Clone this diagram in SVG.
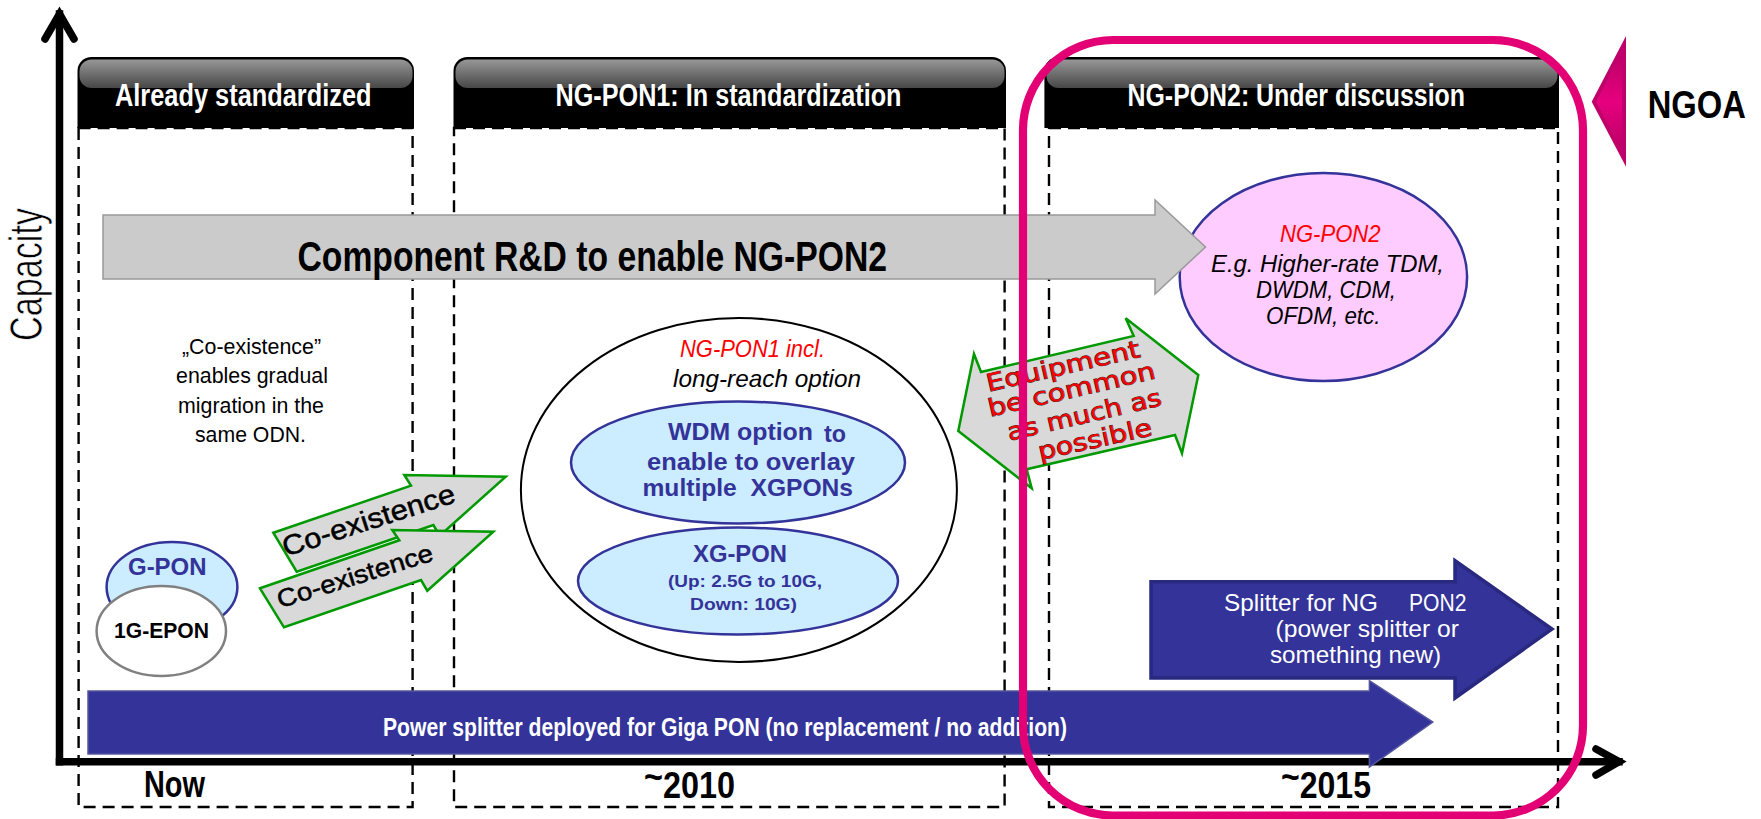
<svg xmlns="http://www.w3.org/2000/svg" width="1761" height="819" viewBox="0 0 1761 819">
<style>
text{font-family:"Liberation Sans",Arial,sans-serif;}
.dash{fill:none;stroke:#000;stroke-width:2.4;stroke-dasharray:12 7;}
.hdr{fill:#000;}
.gl{fill:url(#gloss);}
.ht{fill:#fff;font-size:31px;font-weight:bold;}
.ax{fill:none;stroke:#000;stroke-width:7.5;stroke-linecap:round;stroke-linejoin:miter;stroke-miterlimit:10;}
.axl{fill:none;stroke:#000;stroke-width:7.5;stroke-linecap:square;}
.blue{fill:#333399;font-weight:bold;}
.wh{fill:#fff;font-size:24px;}
.it{font-style:italic;font-size:24px;fill:#000;}
.red{fill:#f00;}
.el{fill:#ccecff;stroke:#333399;stroke-width:2.5;}
.gr{fill:#d9d9d9;stroke:#009900;stroke-width:2.5;stroke-linejoin:miter;}
.eq{font-family:"DejaVu Sans",sans-serif;font-size:24px;fill:#f00;stroke:#222;stroke-width:.9;paint-order:stroke;}
.lb{fill:#000;font-size:36px;font-weight:bold;}
.ce{fill:#000;stroke:#000;stroke-width:.5;}
.nt{font-size:22px;fill:#000;}
</style>
<defs>
<linearGradient id="gloss" x1="0" y1="0" x2="0" y2="1"><stop offset="0" stop-color="#979797"/><stop offset="1" stop-color="#474747"/></linearGradient>
<linearGradient id="tri" x1="0" y1="0" x2="0" y2="1"><stop offset="0" stop-color="#bb0066"/><stop offset=".5" stop-color="#e6007e"/><stop offset="1" stop-color="#bb0066"/></linearGradient>
</defs>

<g id="phase-already">
<rect class="dash" x="78.6" y="128" width="334" height="679"/>
<path class="hdr" d="M77.5 128V71a14 14 0 0 1 14-14H400a14 14 0 0 1 14 14V128Z"/>
<rect class="gl" x="79.5" y="59.5" width="333" height="28.5" rx="12"/>
<text class="ht" x="115" y="106" textLength="256.5" lengthAdjust="spacingAndGlyphs">Already standardized</text>
</g>
<g id="phase-ngpon1">
<rect class="dash" x="454" y="128" width="550.6" height="679"/>
<path class="hdr" d="M453.5 128V71a14 14 0 0 1 14-14H992a14 14 0 0 1 14 14V128Z"/>
<rect class="gl" x="455.5" y="59.5" width="549" height="28.5" rx="12"/>
<text class="ht" x="555.5" y="106" textLength="346" lengthAdjust="spacingAndGlyphs">NG-PON1: In standardization</text>
</g>
<g id="phase-ngpon2">
<rect class="dash" x="1049" y="128" width="509" height="679"/>
<path class="hdr" d="M1044.4 128V71a14 14 0 0 1 14-14H1545a14 14 0 0 1 14 14V128Z"/>
<rect class="gl" x="1046.5" y="59.5" width="511" height="28.5" rx="12"/>
<text class="ht" x="1127.5" y="106" textLength="337.5" lengthAdjust="spacingAndGlyphs">NG-PON2: Under discussion</text>
</g>

<g id="ngpon2-ellipse">
<ellipse cx="1323.4" cy="277" rx="143.7" ry="104" fill="#ffccff" stroke="#333399" stroke-width="2.5"/>
<text class="it red" x="1280" y="241.5" textLength="100.5" lengthAdjust="spacingAndGlyphs">NG-PON2</text>
<text class="it" x="1211" y="272" textLength="233" lengthAdjust="spacingAndGlyphs">E.g. Higher-rate TDM,</text>
<text class="it" x="1256" y="298" textLength="140" lengthAdjust="spacingAndGlyphs">DWDM, CDM,</text>
<text class="it" x="1266" y="324" textLength="114.5" lengthAdjust="spacingAndGlyphs">OFDM, etc.</text>
</g>

<g id="co-existence-note">
<text class="nt" x="182" y="354" textLength="139" lengthAdjust="spacingAndGlyphs">„Co-existence”</text>
<text class="nt" x="176" y="383" textLength="152" lengthAdjust="spacingAndGlyphs">enables gradual</text>
<text class="nt" x="178" y="412.5" textLength="146" lengthAdjust="spacingAndGlyphs">migration in the</text>
<text class="nt" x="195" y="442" textLength="111" lengthAdjust="spacingAndGlyphs">same ODN.</text>
</g>

<g id="gpon">
<ellipse class="el" cx="172" cy="587" rx="65.4" ry="45"/>
<text class="blue" font-size="23" x="128" y="575" textLength="78.5" lengthAdjust="spacingAndGlyphs">G-PON</text>
</g>
<g id="epon">
<ellipse cx="161.3" cy="631" rx="64.7" ry="45" fill="#fff" stroke="#808080" stroke-width="2.5"/>
<text font-size="22" font-weight="bold" x="114" y="637.5" textLength="95" lengthAdjust="spacingAndGlyphs">1G-EPON</text>
</g>

<g id="ngpon1-ellipse">
<ellipse cx="738.9" cy="490" rx="218" ry="172" fill="#fff" stroke="#000" stroke-width="2"/>
<text class="it red" x="680" y="356.5" textLength="145" lengthAdjust="spacingAndGlyphs">NG-PON1 incl.</text>
<text class="it" x="673" y="387" textLength="188" lengthAdjust="spacingAndGlyphs">long-reach option</text>
</g>
<g id="wdm">
<ellipse class="el" cx="738" cy="462.5" rx="167" ry="61"/>
<text class="blue" font-size="24" x="668" y="440" textLength="145" lengthAdjust="spacingAndGlyphs">WDM option</text>
<text class="blue" font-size="24" x="824" y="442" textLength="22" lengthAdjust="spacingAndGlyphs">to</text>
<text class="blue" font-size="24" x="647" y="470" textLength="208" lengthAdjust="spacingAndGlyphs">enable to overlay</text>
<text class="blue" font-size="24" x="642.5" y="496" textLength="210.5" lengthAdjust="spacingAndGlyphs" xml:space="preserve">multiple  XGPONs</text>
</g>
<g id="xgpon">
<ellipse class="el" cx="738" cy="581" rx="160" ry="53.5"/>
<text class="blue" font-size="24" x="693" y="562" textLength="94" lengthAdjust="spacingAndGlyphs">XG-PON</text>
<text class="blue" font-size="17" x="668" y="587" textLength="154" lengthAdjust="spacingAndGlyphs">(Up: 2.5G to 10G,</text>
<text class="blue" font-size="17" x="690" y="610" textLength="107" lengthAdjust="spacingAndGlyphs">Down: 10G)</text>
</g>

<g id="connectors">
<path class="axl" d="M59.5 761.7V14"/>
<path class="ax" d="M45 39L59.5 14L74 39"/>
<path class="axl" d="M59.5 761.7H1619"/>
<path class="ax" d="M1596 749L1619 761.7L1596 775"/>
</g>

<g id="component-arrow">
<path d="M103 215H1155V200L1205.5 247L1155 294V279H103Z" fill="#cbcbcb" stroke="#999" stroke-width="1.5"/>
<text font-size="43" font-weight="bold" x="297.5" y="271" textLength="589.5" lengthAdjust="spacingAndGlyphs">Component R&amp;D to enable NG-PON2</text>
</g>

<g id="coexistence-1">
<path class="gr" d="M273.3 532.7L411 485.7L404.3 475L505.7 476.7L439.7 535.7L433.4 525L296.7 571.7Z"/>
<text class="ce" font-size="28" transform="translate(285.7 556.7) rotate(-17.8)" textLength="180" lengthAdjust="spacingAndGlyphs">Co-existence</text>
</g>
<g id="coexistence-2">
<path class="gr" d="M260 588.3L399.3 540.3L392.3 530L493.3 531.7L427.3 590.7L421 580L284 627.3Z"/>
<text class="ce" font-size="25" transform="translate(280 608.3) rotate(-17.3)" textLength="162" lengthAdjust="spacingAndGlyphs">Co-existence</text>
</g>

<g id="equipment-arrow">
<path class="gr" d="M1125.7 318.3L1133.7 336L981 372L974 354L958.3 431L1031.7 488.3L1026.7 469.3L1175 435L1182 453.3L1198.3 375Z"/>
<text class="eq" transform="translate(988.3 391.7) rotate(-12.9)" textLength="157" lengthAdjust="spacingAndGlyphs">Equipment</text>
<text class="eq" transform="translate(990 416.7) rotate(-13)" textLength="171" lengthAdjust="spacingAndGlyphs">be common</text>
<text class="eq" transform="translate(1009.3 440.7) rotate(-13.1)" textLength="157.5" lengthAdjust="spacingAndGlyphs">as much as</text>
<text class="eq" transform="translate(1040 460) rotate(-12.5)" textLength="116" lengthAdjust="spacingAndGlyphs">possible</text>
</g>

<g id="splitter-ngpon2">
<path d="M1151 581.7H1455V560.7L1552 629L1455 698V678H1151Z" fill="#333399" stroke="#29297f" stroke-width="3.5"/>
<text class="wh" x="1224" y="611" textLength="154" lengthAdjust="spacingAndGlyphs">Splitter for NG</text>
<text class="wh" x="1409" y="611" textLength="57.5" lengthAdjust="spacingAndGlyphs">PON2</text>
<text class="wh" x="1275.5" y="636.7" textLength="183.5" lengthAdjust="spacingAndGlyphs">(power splitter or</text>
<text class="wh" x="1270" y="662.7" textLength="171" lengthAdjust="spacingAndGlyphs">something new)</text>
</g>

<g id="power-splitter">
<path d="M88 691H1369.4V680.7L1432.8 722L1369.4 767V754H88Z" fill="#333399" stroke="#55559f" stroke-width="1.5"/>
<text x="383" y="735.5" font-size="25" font-weight="bold" fill="#fff" textLength="684" lengthAdjust="spacingAndGlyphs">Power splitter deployed for Giga PON (no replacement / no addition)</text>
</g>

<g id="axis-labels">
<text font-size="46" fill="#000" stroke="#fff" stroke-width=".7" transform="translate(42 341) rotate(-90)" textLength="133" lengthAdjust="spacingAndGlyphs">Capacity</text>
<text class="lb" x="144" y="796.7" textLength="61" lengthAdjust="spacingAndGlyphs">Now</text>
<text class="lb" x="644" y="797.5" textLength="91" lengthAdjust="spacingAndGlyphs"><tspan dy="-9">~</tspan><tspan dy="9">2010</tspan></text>
<text class="lb" x="1281" y="797.5" textLength="90" lengthAdjust="spacingAndGlyphs"><tspan dy="-9">~</tspan><tspan dy="9">2015</tspan></text>
</g>

<g id="ngoa-frame">
<rect x="1023" y="40" width="560" height="775.5" rx="90" ry="90" fill="none" stroke="#e20074" stroke-width="8.2"/>
</g>
<g id="ngoa-label">
<polygon points="1626,36 1591.7,101.7 1626,166.7" fill="#c0006a"/>
<polygon points="1596,101.7 1622,52 1622,151" fill="url(#tri)"/>
<text font-size="39" font-weight="bold" transform="translate(1647.7 117.7) scale(.84 1)">NGOA</text>
</g>
</svg>
